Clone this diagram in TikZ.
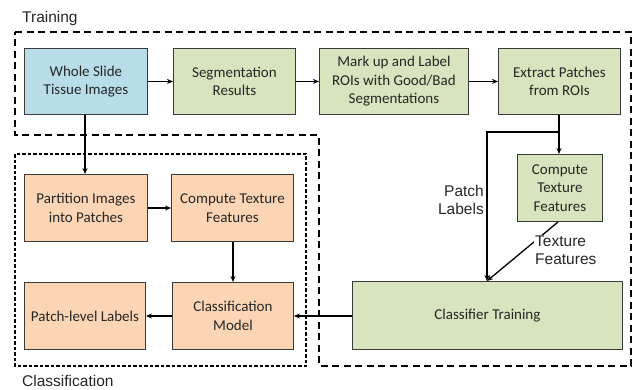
\documentclass[tikz,border=0pt]{standalone}
\usepackage{fontspec}
\setmainfont{Carlito}
\newfontfamily\labelfont{Liberation Sans}
\usetikzlibrary{arrows.meta}
\definecolor{cblue}{HTML}{B7DDE8}
\definecolor{cgreen}{HTML}{D7E4BD}
\definecolor{corange}{HTML}{FCD5B5}
\definecolor{cborder}{HTML}{3A3A3A}
\tikzset{
  boxbase/.style={draw=cborder, line width=0.9pt, align=center, font=\fontsize{15}{18.5}\selectfont, text=black!85, inner sep=0pt},
  bluebox/.style={boxbase, fill=cblue},
  greenbox/.style={boxbase, fill=cgreen},
  orangebox/.style={boxbase, fill=corange},
  conn/.style={line width=1.3pt, -{Stealth[length=6pt,width=5pt]}},
  plainconn/.style={line width=1.3pt},
  lbl/.style={font=\labelfont\fontsize{15.5}{17.5}\selectfont, align=left, inner sep=0pt, text=black!85},
  trainframe/.style={line width=1.3pt, dash pattern=on 7pt off 4.5pt},
  classframe/.style={line width=1.3pt, dash pattern=on 3.5pt off 2pt},
}
\begin{document}
\begin{tikzpicture}[x=1pt,y=-1pt]
\useasboundingbox (0,0) rectangle (632,389);
% frames
\draw[trainframe] (15,32) -- (631,32) -- (631,366) -- (319,366) -- (319,135) -- (15,135) -- cycle;
\draw[classframe] (15,154) rectangle (306,366);
\node[lbl, anchor=west] (tlabel) at (22,18) {Training};
\node[lbl, anchor=west] (clabel) at (22,381) {Classification};
% top row
\node[bluebox, minimum width=123pt, minimum height=66pt, anchor=north west] (wsi) at (24,48) {Whole Slide\\Tissue Images};
\node[greenbox, minimum width=122pt, minimum height=66pt, anchor=north west] (seg) at (173,48) {Segmentation\\Results};
\node[greenbox, minimum width=149pt, minimum height=66pt, anchor=north west] (mark) at (319,48) {Mark up and Label\\ROIs with Good/Bad\\Segmentations};
\node[greenbox, minimum width=122pt, minimum height=66pt, anchor=north west] (extract) at (498,48) {Extract Patches\\from ROIs};
% right column
\node[greenbox, minimum width=85pt, minimum height=67pt, anchor=north west] (ctf) at (517,154) {Compute\\Texture\\Features};
\node[greenbox, minimum width=270pt, minimum height=68pt, anchor=north west] (ctrain) at (352,281) {Classifier Training};
% classification
\node[orangebox, minimum width=123pt, minimum height=67pt, anchor=north west] (part) at (24,174) {Partition Images\\into Patches};
\node[orangebox, minimum width=122pt, minimum height=67pt, anchor=north west] (ctfo) at (171,174) {Compute Texture\\Features};
\node[orangebox, minimum width=121pt, minimum height=67pt, anchor=north west] (plabels) at (24,282) {Patch-level Labels};
\node[orangebox, minimum width=121pt, minimum height=67pt, anchor=north west] (cmodel) at (172,282) {Classification\\Model};
% connectors top row
\draw[conn] (wsi.east) -- (seg.west);
\draw[conn] (seg.east) -- (mark.west);
\draw[conn] (mark.east) -- (extract.west);
% branch from extract
\coordinate (split) at (559,132);
\coordinate (leftturn) at (487,132);
\draw[plainconn] (extract.south -| split) -- (split);
\draw[conn] (split) -- (ctf.north -| split);
\draw[conn] (split) -- (leftturn) -- (ctrain.north -| leftturn);
% texture features diagonal
\coordinate (tfstart) at (558,222);
\draw[conn] (tfstart) -- (ctrain.north -| leftturn);
\node[lbl, fill=white, inner sep=1pt, anchor=north west] (tflabel) at (534,235) {Texture\\Features};
\node[lbl, align=right, anchor=east] (pllabel) at (484,200) {Patch\\Labels};
% classification connectors
\draw[conn] (wsi.south -| 85,0) -- (part.north -| 85,0);
\draw[conn] (part.east |- 0,208) -- (ctfo.west |- 0,208);
\draw[conn] (ctfo.south -| 233,0) -- (cmodel.north -| 233,0);
\draw[conn] (ctrain.west |- 0,316) -- (cmodel.east |- 0,316);
\draw[conn] (cmodel.west |- 0,316) -- (plabels.east |- 0,316);
\end{tikzpicture}
\end{document}
